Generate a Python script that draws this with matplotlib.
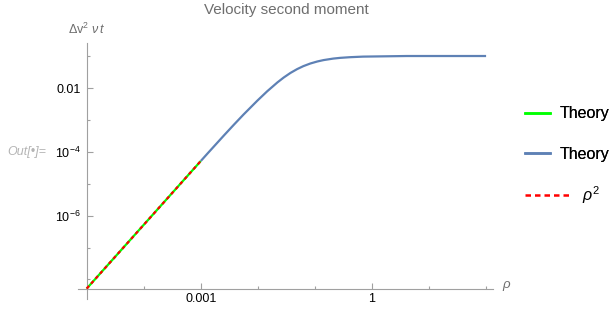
"""Velocity second moment, log-log, Mathematica-like styling."""
import matplotlib

matplotlib.use("Agg")
import matplotlib.pyplot as plt
from matplotlib.lines import Line2D
from matplotlib.ticker import FixedLocator, FixedFormatter, NullFormatter

# data
rho_low = [1e-5, 1e-3]
theory_low = [5.15e-9, 5.15e-5]
rho_sq = [1e-5, 1e-3]
rho_sq_vals = [5.15e-9, 5.15e-5]

rho_hi = [1e-3, 1.31e-3, 2.52e-3, 3.81e-3, 5.62e-3, 9.86e-3, 1.455e-2, 2.2e-2,
          2.84e-2, 3.72e-2, 4.86e-2, 6.26e-2, 8.3e-2, 0.11, 0.1416, 0.209, 0.277,
          0.413, 0.697, 4.07, 100]
theory_hi = [5.15e-5, 8.83e-5, 3.20e-4, 7.11e-4, 1.479e-3, 4.06e-3, 7.87e-3, 1.496e-2,
             2.133e-2, 2.965e-2, 3.90e-2, 4.84e-2, 5.86e-2, 6.78e-2, 7.50e-2, 8.36e-2,
             8.81e-2, 9.25e-2, 9.64e-2, 0.1007, 0.1007]

x_major = [1e-3, 1]
x_major_labels = ["0.001", "1"]
x_minor = [1e-4, 1e-2, 1e-1, 10, 100]
y_major = [1e-2, 1e-4, 1e-6]
y_major_labels = ["0.01", "$10^{-4}$", "$10^{-6}$"]
y_minor = [1e-1, 1e-3, 1e-5, 1e-7, 1e-8]

GREEN = "#00FF00"
BLUE = "#5E81B5"
RED = "#FF0000"
AXIS_GRAY = "#A0A0A0"
LABEL_GRAY = "#6E6E6E"

plt.rcParams.update({
    "font.family": "Liberation Sans",
    "mathtext.fontset": "custom",
    "mathtext.rm": "Liberation Sans",
    "mathtext.it": "Liberation Sans:italic",
    "font.size": 9,
})

W, H = 611, 310
fig = plt.figure(figsize=(W / 100, H / 100), dpi=100)
fig.patch.set_facecolor("white")
ax = fig.add_axes([78 / W, 1 - 299 / H, (493 - 78) / W, (299 - 43) / H])

ax.set_xscale("log")
ax.set_yscale("log")

ax.plot(rho_low, theory_low, color=GREEN, lw=1.6, solid_capstyle="butt", zorder=2)
ax.plot(rho_hi, theory_hi, color=BLUE, lw=1.6, solid_capstyle="butt",
        solid_joinstyle="round", zorder=2)
ax.plot(rho_sq, rho_sq_vals, color=RED, lw=1.6, dashes=(1.6, 1.4), zorder=3)

ax.set_xlim(10 ** -5.152, 10 ** 2.121)
ax.set_ylim(10 ** -8.614, 10 ** -0.589)

for s in ["top", "right"]:
    ax.spines[s].set_visible(False)
ax.spines["left"].set_position(("data", rho_low[0]))
ax.spines["bottom"].set_position(("data", theory_low[0]))
for s in ["left", "bottom"]:
    ax.spines[s].set_color(AXIS_GRAY)
    ax.spines[s].set_linewidth(0.8)

ax.xaxis.set_major_locator(FixedLocator(x_major))
ax.xaxis.set_major_formatter(FixedFormatter(x_major_labels))
ax.xaxis.set_minor_locator(FixedLocator(x_minor))
ax.xaxis.set_minor_formatter(NullFormatter())
ax.yaxis.set_major_locator(FixedLocator(y_major))
ax.yaxis.set_major_formatter(FixedFormatter(y_major_labels))
ax.yaxis.set_minor_locator(FixedLocator(y_minor))
ax.yaxis.set_minor_formatter(NullFormatter())

ax.tick_params(which="both", direction="in", color=AXIS_GRAY, width=0.8,
               labelsize=9, labelcolor="black")
ax.tick_params(which="major", length=4)
ax.tick_params(which="minor", length=2.5)
ax.tick_params(axis="x", pad=3)
ax.tick_params(axis="y", pad=4)

fig.text(286.5 / W, 1 - 10 / H, "Velocity second moment", ha="center", va="center",
         fontsize=11, color=LABEL_GRAY)
fig.text(87 / W, 1 - 29 / H, r"$\Delta\mathrm{v}^2\ \nu\, t$", ha="center", va="center",
         fontsize=9, color=LABEL_GRAY)
fig.text(507 / W, 1 - 286 / H, r"$\rho$", ha="center", va="center",
         fontsize=9.5, color=LABEL_GRAY)
fig.text(7 / W, 1 - 152 / H, "Out[•]=", ha="left", va="center", fontsize=9,
         style="italic", color="#B4B4B4")

h_green = Line2D([], [], color=GREEN, lw=1.8)
h_blue = Line2D([], [], color=BLUE, lw=1.8)
h_red = Line2D([], [], color=RED, lw=1.8, dashes=(2.2, 1.6))

leg1 = fig.legend([h_green, h_blue], ["Theory", "Theory"], loc="center left",
                  bbox_to_anchor=(525 / W, 1 - 134 / H), frameon=False,
                  fontsize=11.5, handlelength=1.55, handletextpad=0.6,
                  labelspacing=1.6, borderpad=0, borderaxespad=0)
fig.add_artist(leg1)
fig.legend([h_red], [r"$\rho^2$"], loc="center left",
           bbox_to_anchor=(525 / W, 1 - 195 / H), frameon=False,
           fontsize=11.5, handlelength=2.9, handletextpad=0.65,
           borderpad=0, borderaxespad=0)

fig.savefig("out.png", dpi=100, facecolor="white")
plt.close(fig)
